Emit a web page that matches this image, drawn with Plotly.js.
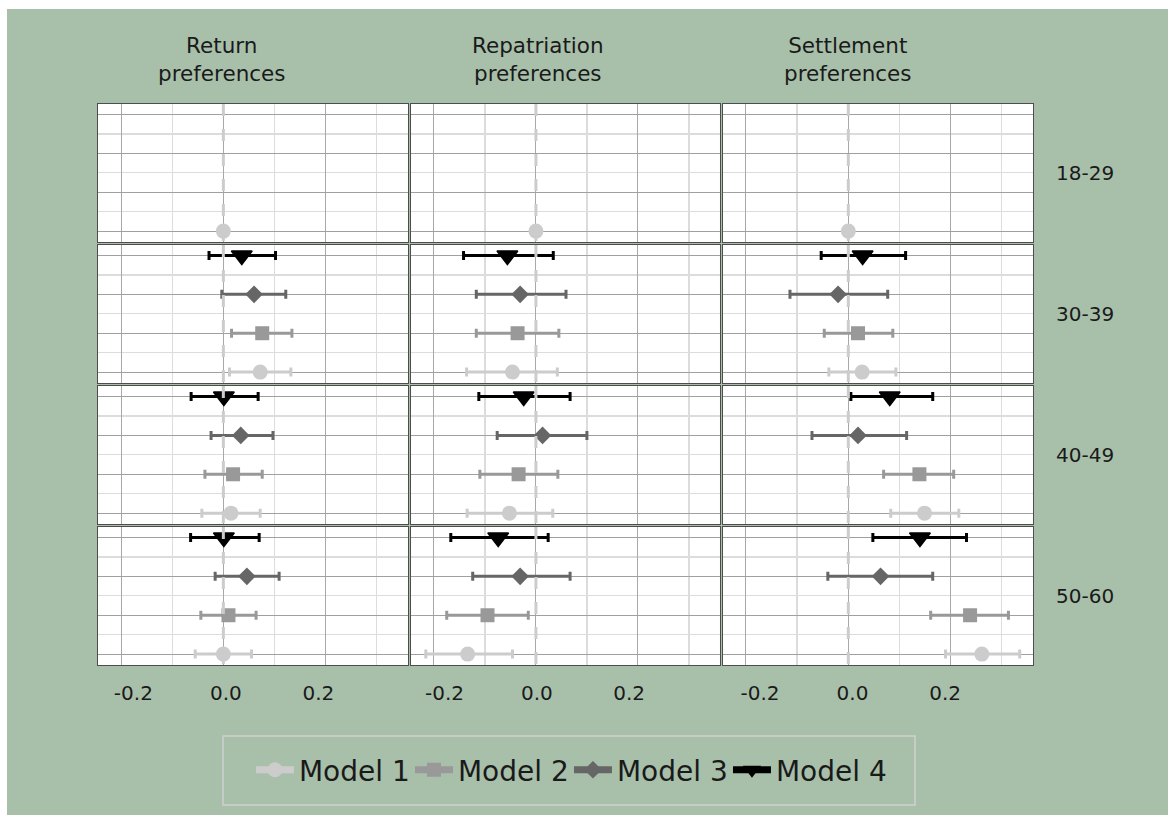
<!DOCTYPE html>
<html><head><meta charset="utf-8">
<script src="https://cdn.plot.ly/plotly-3.0.1.min.js"></script>
<style>html,body{margin:0;padding:0;background:#ffffff;} #chart{position:absolute;left:7px;top:9px;width:1161px;height:806px;}</style>
</head><body><div id="chart"></div><script>
const outcomes = ['Return<br>preferences', 'Repatriation<br>preferences', 'Settlement<br>preferences'];
const ageGroups = ['18-29', '30-39', '40-49', '50-60'];
const models = ['Model 1', 'Model 2', 'Model 3', 'Model 4'];
const modelColors = ['#cccccc', '#999999', '#666666', '#000000'];
const modelSymbols = ['circle', 'square', 'diamond', 'triangle-down'];
const modelSizes = [15, 14, 13.5, 18];
const xTickVals = [-0.2, 0, 0.2];
const xTickText = ['-0.2', '0.0', '0.2'];

// rows = age groups, columns = Model 1..4
const returnEst = [[0, null, null, null], [0.072, 0.076, 0.060, 0.036], [0.015, 0.019, 0.034, 0.001], [0.000, 0.010, 0.046, 0.001]];
const returnLo  = [[null, null, null, null], [0.012, 0.016, -0.003, -0.028], [-0.042, -0.036, -0.024, -0.063], [-0.055, -0.044, -0.016, -0.064]];
const returnHi  = [[null, null, null, null], [0.132, 0.134, 0.122, 0.102], [0.072, 0.076, 0.097, 0.068], [0.055, 0.064, 0.109, 0.070]];

const repatEst = [[0, null, null, null], [-0.046, -0.036, -0.031, -0.056], [-0.052, -0.034, 0.013, -0.024], [-0.134, -0.095, -0.031, -0.074]];
const repatLo  = [[null, null, null, null], [-0.136, -0.117, -0.117, -0.142], [-0.135, -0.110, -0.076, -0.112], [-0.216, -0.175, -0.124, -0.167]];
const repatHi  = [[null, null, null, null], [0.042, 0.045, 0.059, 0.034], [0.033, 0.043, 0.100, 0.067], [-0.046, -0.015, 0.067, 0.024]];

const settleEst = [[0, null, null, null], [0.027, 0.019, -0.020, 0.028], [0.149, 0.139, 0.019, 0.081], [0.261, 0.238, 0.063, 0.140]];
const settleLo  = [[null, null, null, null], [-0.038, -0.047, -0.114, -0.053], [0.083, 0.069, -0.071, 0.005], [0.190, 0.161, -0.040, 0.048]];
const settleHi  = [[null, null, null, null], [0.093, 0.087, 0.077, 0.112], [0.216, 0.206, 0.114, 0.165], [0.335, 0.313, 0.165, 0.231]];

const estTables = [returnEst, repatEst, settleEst];
const loTables = [returnLo, repatLo, settleLo];
const hiTables = [returnHi, repatHi, settleHi];

const FONT = 'DejaVu Sans';
const TXT = '#1a1a1a';
const colDomains = [[0, 0.3316], [0.3348, 0.6652], [0.6684, 1]];
const rowDomains = [[0.7540, 1], [0.5027, 0.7487], [0.2513, 0.4973], [0, 0.2460]];
const labelRanges = [[-0.2765, 0.394], [-0.2726, 0.397], [-0.280, 0.390]];

const traces = [];
const layout = {
  width: 1161, height: 806,
  margin: {l: 91, r: 135, t: 95, b: 150},
  paper_bgcolor: '#a8c0aa', plot_bgcolor: '#ffffff',
  font: {family: FONT, color: TXT, size: 20},
  showlegend: true,
  legend: {orientation: 'h', x: 0.1636, xanchor: 'left', y: -0.1872, yanchor: 'middle',
           itemwidth: 38, entrywidth: 106, entrywidthmode: 'pixels',
           bgcolor: 'rgba(0,0,0,0)', borderwidth: 0, font: {family: FONT, size: 28, color: TXT}},
  shapes: [], annotations: []
};

function sfx(k) { return k === 1 ? '' : String(k); }

for (let r = 0; r < 4; r++) {
  for (let c = 0; c < 3; c++) {
    const k = r * 3 + c + 1;
    layout['xaxis' + sfx(k)] = {
      domain: colDomains[c], anchor: 'y' + sfx(k), range: [-0.245, 0.361], autorange: false,
      tick0: 0, dtick: 0.2, showticklabels: false, ticks: '',
      showgrid: true, gridcolor: '#a8a8a8', gridwidth: 1,
      minor: {tick0: 0, dtick: 0.1, showgrid: true, gridcolor: '#dcdcdc', gridwidth: 1.3},
      zeroline: false, showline: true, mirror: true, linecolor: '#4d4d4d', linewidth: 1, fixedrange: true
    };
    layout['yaxis' + sfx(k)] = {
      domain: rowDomains[r], anchor: 'x' + sfx(k), range: [0.72, 4.27], autorange: false,
      tick0: 0, dtick: 1, showticklabels: false, ticks: '',
      showgrid: true, gridcolor: '#a0a0a0', gridwidth: 1,
      minor: {tick0: 0, dtick: 0.5, showgrid: true, gridcolor: '#dcdcdc', gridwidth: 1.3},
      zeroline: false, showline: true, mirror: true, linecolor: '#4d4d4d', linewidth: 1, fixedrange: true
    };
    layout.shapes.push({
      type: 'line', xref: 'x' + sfx(k), yref: 'y' + sfx(k) + ' domain', x0: 0, x1: 0, y0: 1, y1: 0,
      line: {color: '#cccccc', width: 3, dash: '12px,13px'}, layer: 'above'
    });
    for (let m = 0; m < 4; m++) {
      const est = estTables[c][r][m];
      if (est === null) continue;
      const lo = loTables[c][r][m], hi = hiTables[c][r][m];
      const tr = {
        type: 'scatter', mode: 'markers', x: [est], y: [m + 1],
        xaxis: 'x' + sfx(k), yaxis: 'y' + sfx(k), showlegend: false, hoverinfo: 'skip',
        marker: {symbol: modelSymbols[m], size: modelSizes[m], color: modelColors[m],
                 line: {width: m === 3 ? 1.5 : 0, color: modelColors[m]}}
      };
      if (lo !== null) {
        tr.error_x = {type: 'data', symmetric: false, array: [hi - est], arrayminus: [est - lo],
                      color: modelColors[m], thickness: 3, width: 4.5};
      }
      traces.push(tr);
    }
  }
  layout.annotations.push({
    text: ageGroups[r], xref: 'paper', x: 1.0225, xanchor: 'left',
    yref: 'y' + sfx(r * 3 + 3) + ' domain', y: 0.5, yanchor: 'middle',
    showarrow: false, font: {family: FONT, size: 20, color: TXT}
  });
}

for (let c = 0; c < 3; c++) {
  const base = 9 + c + 1;
  layout['xaxis' + (13 + c)] = {
    overlaying: 'x' + base, anchor: 'y' + base, side: 'bottom',
    range: labelRanges[c], autorange: false,
    tickmode: 'array', tickvals: xTickVals, ticktext: xTickText,
    ticks: '', ticklabelstandoff: 14, showgrid: false, zeroline: false, showline: false, fixedrange: true,
    tickfont: {family: FONT, size: 20, color: TXT}
  };
  traces.push({type: 'scatter', mode: 'markers', x: [null], y: [null], xaxis: 'x' + (13 + c), yaxis: 'y' + base,
               showlegend: false, hoverinfo: 'skip'});
}

const titleX = [0.1326, 0.4706, 0.8018];
for (let c = 0; c < 3; c++) {
  layout.annotations.push({
    text: outcomes[c], xref: 'paper', x: titleX[c], xanchor: 'center',
    yref: 'paper', y: 1.0802, yanchor: 'middle', showarrow: false,
    font: {family: FONT, size: 21.5, color: TXT}
  });
}

layout.shapes.push({type: 'rect', xref: 'paper', yref: 'paper', x0: 0.1337, x1: 0.8738, y0: -0.1266, y1: -0.2496,
                    line: {color: '#cfcfcf', width: 1.5}, fillcolor: 'rgba(0,0,0,0)', layer: 'above'});

for (let m = 0; m < 4; m++) {
  traces.push({
    type: 'scatter', mode: 'lines+markers', x: [null], y: [null], xaxis: 'x', yaxis: 'y',
    name: models[m], showlegend: true, hoverinfo: 'skip',
    line: {color: modelColors[m], width: 7},
    marker: {symbol: modelSymbols[m], size: modelSizes[m], color: modelColors[m]}
  });
}

Plotly.newPlot('chart', traces, layout, {staticPlot: true, displayModeBar: false});
</script></body></html>
